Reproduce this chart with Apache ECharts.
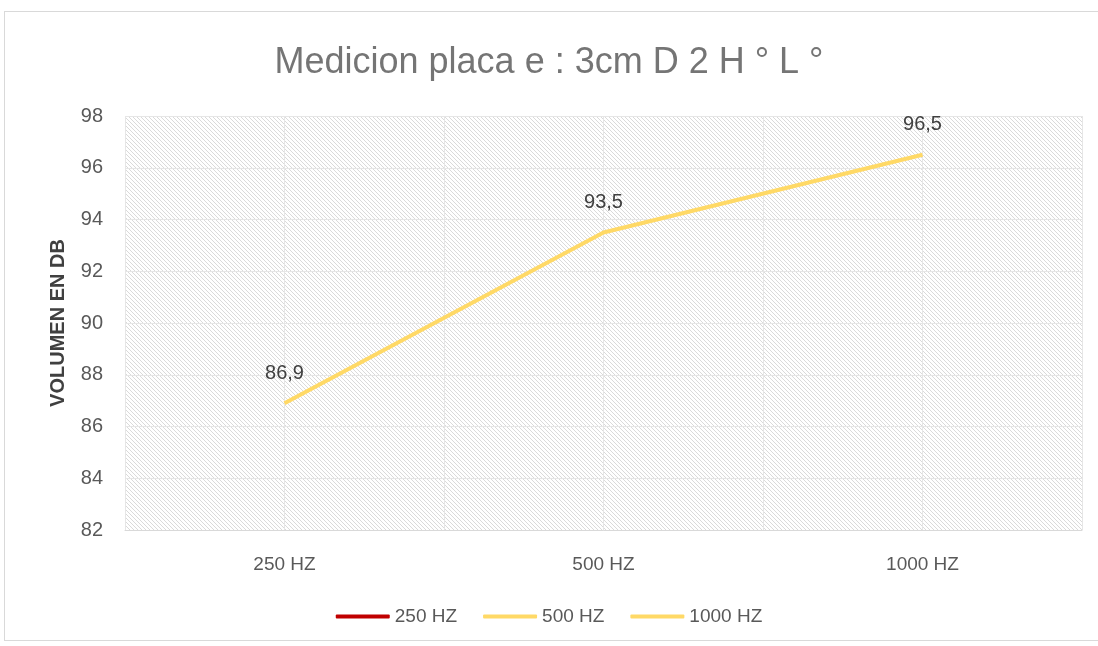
<!DOCTYPE html>
<html>
<head>
<meta charset="utf-8">
<script src="https://cdn.jsdelivr.net/npm/echarts@6/dist/echarts.min.js"></script>
<style>
  html, body { margin: 0; padding: 0; background: #fff; }
  #frame { position: absolute; left: 4px; top: 11px; width: 1110px; height: 628px; border: 1px solid #d9d9d9; }
  #main { position: absolute; left: 0; top: 0; width: 1098px; height: 646px; }
</style>
</head>
<body>
<div id="frame"></div>
<div id="main"></div>
<script>
// data
var categories = ['250 HZ', '500 HZ', '1000 HZ']
var seriesNames = ['250 HZ', '500 HZ', '1000 HZ']
var hz250 = []
var hz500 = []
var hz1000 = [86.9, 93.5, 96.5]
var yTicks = [82, 84, 86, 88, 90, 92, 94, 96, 98]

// hatched fill for the plot area
function hatch() {
  var c = document.createElement('canvas')
  c.width = 4
  c.height = 4
  var ctx = c.getContext('2d')
  ctx.fillStyle = '#ffffff'
  ctx.fillRect(0, 0, 4, 4)
  ctx.fillStyle = '#dadada'
  for (var i = 0; i < 4; i++) {
    ctx.fillRect(i, i, 1, 1)
  }
  return c
}

var chart = echarts.init(document.getElementById('main'))
var font = 'Liberation Sans, Arial, sans-serif'

chart.setOption({
  animation: false,
  color: ['#C00000', '#FFD966', '#FFD966'],
  title: {
    text: 'Medicion placa e : 3cm D 2 H ° L °',
    left: 'center',
    top: 40,
    textStyle: {
      color: '#757575',
      fontSize: 36,
      fontWeight: 'normal',
      fontFamily: font
    }
  },
  grid: {
    left: 125,
    right: 16,
    top: 116,
    bottom: 116,
    show: true,
    borderWidth: 0,
    backgroundColor: { image: hatch(), repeat: 'repeat' }
  },
  legend: {
    data: seriesNames,
    bottom: 15,
    left: 'center',
    icon: 'roundRect',
    itemWidth: 54,
    itemHeight: 4,
    itemGap: 26,
    textStyle: {
      color: '#595959',
      fontSize: 19,
      fontFamily: font
    }
  },
  xAxis: [{
    type: 'category',
    data: categories,
    axisLine: { show: true, lineStyle: { color: '#d9d9d9' } },
    axisTick: { show: false },
    splitLine: { show: false },
    axisLabel: {
      margin: 25,
      color: '#595959',
      fontSize: 19,
      fontFamily: font
    }
  }, {
    // helper axis: grid lines at every half category
    type: 'category',
    data: ['', '', '', '', '', ''],
    position: 'bottom',
    axisLine: { show: false },
    axisTick: { show: false },
    axisLabel: { show: false },
    splitLine: { show: true, lineStyle: { color: '#e6e6e6', width: 1 } }
  }],
  yAxis: {
    type: 'value',
    min: yTicks[0],
    max: yTicks[yTicks.length - 1],
    interval: 2,
    name: 'VOLUMEN EN DB',
    nameLocation: 'middle',
    nameGap: 57,
    nameTextStyle: {
      color: '#404040',
      fontSize: 20,
      fontWeight: 'bold',
      fontFamily: font
    },
    axisLine: { show: false },
    axisTick: { show: false },
    axisLabel: {
      margin: 22,
      color: '#595959',
      fontSize: 20,
      fontFamily: font
    },
    splitLine: { lineStyle: { color: '#e6e6e6', width: 1 } }
  },
  series: [{
    name: seriesNames[0],
    type: 'line',
    data: hz250,
    showSymbol: false,
    lineStyle: { width: 4 }
  }, {
    name: seriesNames[1],
    type: 'line',
    data: hz500,
    showSymbol: false,
    lineStyle: { width: 4 }
  }, {
    name: seriesNames[2],
    type: 'line',
    data: hz1000,
    symbol: 'circle',
    symbolSize: 0,
    showSymbol: true,
    lineStyle: { width: 4 },
    label: {
      show: true,
      position: 'top',
      distance: 20,
      color: '#404040',
      fontSize: 20,
      fontFamily: font,
      formatter: function (p) {
        return String(p.value).replace('.', ',')
      }
    }
  }]
})
</script>
</body>
</html>
